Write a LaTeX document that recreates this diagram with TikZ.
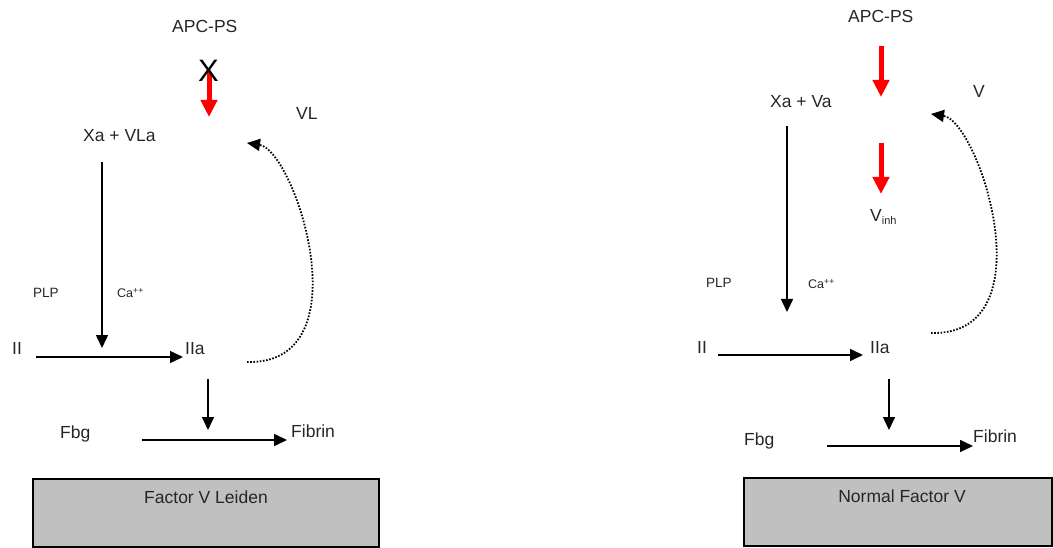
\documentclass[tikz,border=0pt]{standalone}
\usepackage{fontspec}
\setmainfont{Liberation Sans}
\usetikzlibrary{arrows.meta}
\definecolor{txt}{HTML}{262626}
\definecolor{boxgray}{HTML}{C0C0C0}
\definecolor{redarrow}{HTML}{FF0000}
\begin{document}
\begin{tikzpicture}[x=1pt,y=-1pt,
  lbl/.style={inner sep=0pt,anchor=base west,text=txt,font=\fontsize{17.5}{20}\selectfont},
  small/.style={inner sep=0pt,anchor=base west,text=txt,font=\fontsize{13.5}{15}\selectfont},
  ca/.style={inner sep=0pt,anchor=base west,text=txt,font=\fontsize{12.5}{14}\selectfont},
  arr/.style={line width=1.6pt,-{Triangle[length=13pt,width=12pt]}},
  redarr/.style={draw=redarrow,line width=5pt,-{Triangle[length=17pt,width=16pt]}},
  dotarr/.style={line width=1.8pt,dash pattern=on 1.6pt off 1.6pt,-{Triangle[length=13pt,width=12pt]}},
  panel/.style={draw=black,line width=2pt,fill=boxgray}]
\useasboundingbox (0,0) rectangle (1053,548);

% ---------------- Left panel: Factor V Leiden ----------------
\node[lbl] (apcL) at (172,33) {APC-PS};
\coordinate (rLs) at (209,72);
\coordinate (rLe) at (209,117);
\draw[redarr] (rLs) -- (rLe);
\node[inner sep=0pt,anchor=base west,text=black,font=\fontsize{31}{34}\selectfont] (xL) at (198,82) {X};
\node[lbl] (vlL) at (296,120) {VL};
\node[lbl] (xaL) at (83,142) {Xa + VLa};
\node[small] (plpL) at (33,298) {PLP};
\node[ca] (caL) at (117,298) {Ca\textsuperscript{++}};
\node[lbl] (iiL) at (12,354) {II};
\node[lbl] (iiaL) at (185,354) {IIa};
\node[lbl] (fbgL) at (60,438) {Fbg};
\node[lbl] (fibL) at (291,437) {Fibrin};

\coordinate (vLs) at (102,162);
\coordinate (vLe) at (102,348);
\draw[arr] (vLs) -- (vLe);
\coordinate (hLs) at (36,357);
\coordinate (hLe) at (183,357);
\draw[arr] (hLs) -- (hLe);
\coordinate (dLs) at (208,379);
\coordinate (dLe) at (208,430);
\draw[arr] (dLs) -- (dLe);
\coordinate (fLs) at (142,440);
\coordinate (fLe) at (287,440);
\draw[arr] (fLs) -- (fLe);
\coordinate (cLs) at (247,362);
\coordinate (cLe) at (247,143);
\draw[dotarr] (cLs) .. controls (365,365) and (295,150) .. (cLe);

\draw[panel] (33,479) rectangle (379,547);
\node[lbl,anchor=base] (boxL) at (206,503) {Factor V Leiden};

% ---------------- Right panel: Normal Factor V ----------------
\node[lbl] (apcR) at (848,23) {APC-PS};
\coordinate (rR1s) at (881,46);
\coordinate (rR1e) at (881,97);
\draw[redarr] (rR1s) -- (rR1e);
\coordinate (rR2s) at (881,143);
\coordinate (rR2e) at (881,194);
\draw[redarr] (rR2s) -- (rR2e);
\node[lbl] (vR) at (973,98) {V};
\node[lbl] (xaR) at (770,108) {Xa + Va};
\node[lbl] (vinhR) at (870,222) {V\raisebox{-3pt}{\fontsize{11}{12}\selectfont inh}};
\node[small] (plpR) at (706,288) {PLP};
\node[ca] (caR) at (808,289) {Ca\textsuperscript{++}};
\node[lbl] (iiR) at (697,353) {II};
\node[lbl] (iiaR) at (870,353) {IIa};
\node[lbl] (fbgR) at (744,445) {Fbg};
\node[lbl] (fibR) at (973,442) {Fibrin};

\coordinate (vRs) at (787,126);
\coordinate (vRe) at (787,312);
\draw[arr] (vRs) -- (vRe);
\coordinate (hRs) at (718,355);
\coordinate (hRe) at (863,355);
\draw[arr] (hRs) -- (hRe);
\coordinate (dRs) at (889,379);
\coordinate (dRe) at (889,430);
\draw[arr] (dRs) -- (dRe);
\coordinate (fRs) at (827,446);
\coordinate (fRe) at (973,446);
\draw[arr] (fRs) -- (fRe);
\coordinate (cRs) at (931,333);
\coordinate (cRe) at (931,114);
\draw[dotarr] (cRs) .. controls (1049,336) and (979,121) .. (cRe);

\draw[panel] (744,478) rectangle (1052,546);
\node[lbl,anchor=base] (boxR) at (902,502) {Normal Factor V};
\end{tikzpicture}
\end{document}
